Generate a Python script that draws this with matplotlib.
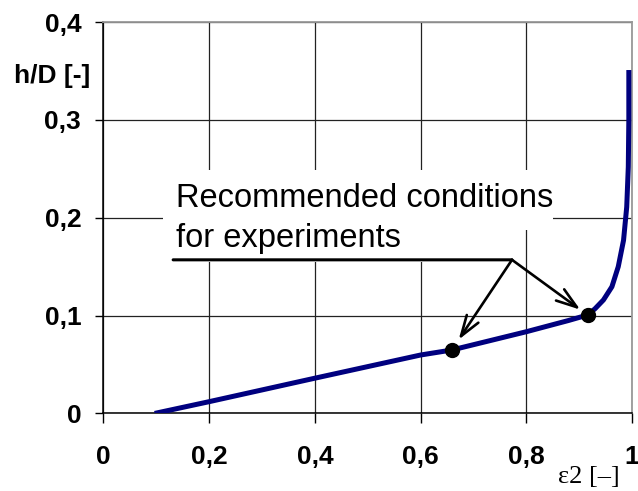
import matplotlib
matplotlib.use("Agg")
import matplotlib.pyplot as plt
from matplotlib.patches import Polygon

# curve h/D over eps2
eps2 = [0.097, 0.2, 0.4, 0.6, 0.659, 0.8, 0.88, 0.916, 0.93, 0.946, 0.962,
        0.974, 0.984, 0.990, 0.993, 0.994, 0.994]
h_D = [0.0, 0.012, 0.036, 0.0597, 0.0648, 0.0835, 0.095, 0.1006, 0.107,
       0.116, 0.1295, 0.150, 0.177, 0.211, 0.252, 0.300, 0.351]

# recommended points
rec_x = [0.659, 0.916]
rec_y = [0.0648, 0.1006]

x_ticks = [0, 0.2, 0.4, 0.6, 0.8, 1.0]
x_labels = ["0", "0,2", "0,4", "0,6", "0,8", "1"]
y_ticks = [0, 0.1, 0.2, 0.3, 0.4]
y_labels = ["0", "0,1", "0,2", "0,3", "0,4"]

plt.rcParams['font.family'] = ['Liberation Sans', 'DejaVu Sans']

fig = plt.figure(figsize=(6.38, 4.91), dpi=100)
ax = fig.add_axes([0.162, 0.158, 0.9906 - 0.162, 0.955 - 0.158])

ax.set_xlim(0, 1)
ax.set_ylim(0, 0.4)
ax.set_xticks(x_ticks)
ax.set_xticklabels(x_labels, fontsize=19, fontweight='bold')
ax.set_yticks(y_ticks)
ax.set_yticklabels(y_labels, fontsize=19, fontweight='bold')
ax.tick_params(axis='x', direction='out', length=7, width=1, pad=16)
ax.tick_params(axis='y', direction='out', length=6, width=1, pad=10)
ax.grid(True, color='#222222', lw=0.9)
ax.set_axisbelow(True)

for s in ['top', 'right']:
    ax.spines[s].set_color('#999999')
    ax.spines[s].set_linewidth(1.3)
for s in ['left', 'bottom']:
    ax.spines[s].set_color('black')
    ax.spines[s].set_linewidth(1.1)

ax.plot(eps2, h_D, color='#00007f', lw=3.6, solid_capstyle='butt',
        solid_joinstyle='round', zorder=3)
ax.plot(rec_x, rec_y, 'o', color='black', ms=10, zorder=4)

# white patch behind the label that hides the grid
mask = Polygon([(0.113, 0.249), (0.851, 0.249), (0.851, 0.1875),
                (0.75, 0.1875), (0.75, 0.155), (0.113, 0.155)],
               closed=True, facecolor='white', edgecolor='none', zorder=2)
ax.add_patch(mask)

ax.text(0.138, 0.211, "Recommended conditions", fontsize=23.5,
        va='baseline', ha='left', zorder=5)
ax.text(0.138, 0.170, "for experiments", fontsize=23.5,
        va='baseline', ha='left', zorder=5)

# underline and arrows
hub = (0.773, 0.157)
ax.annotate("", xy=hub, xytext=(0.132, 0.157), zorder=6,
            arrowprops=dict(arrowstyle='-', lw=2.2, color='black',
                            shrinkA=0, shrinkB=0))
for px, py, sb in zip(rec_x, rec_y, [9, 6.5]):
    ax.annotate("", xy=(px, py), xytext=hub, zorder=6,
                arrowprops=dict(arrowstyle='->,head_length=1.5,head_width=0.5',
                                lw=1.9, color='black', shrinkA=0, shrinkB=sb))

ax.text(-0.025, 0.345, "h/D [-]", fontsize=19, fontweight='bold',
        ha='right', va='center', transform=ax.get_yaxis_transform())
ax.text(0.977, -0.191, "ε2 [–]", fontsize=19, family=['Liberation Serif', 'DejaVu Serif'],
        ha='right', va='bottom', transform=ax.transAxes)

fig.savefig("out.png", dpi=100)
